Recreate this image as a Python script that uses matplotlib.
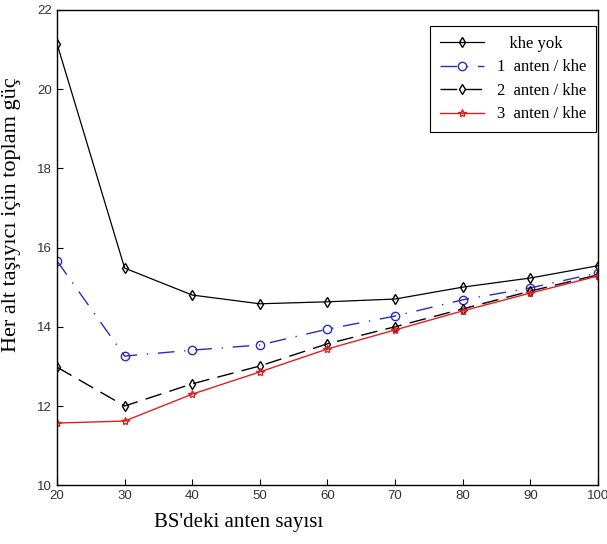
import numpy as np
import matplotlib
matplotlib.use('Agg')
import matplotlib.pyplot as plt

# antenna counts at the BS
anten = [20, 30, 40, 50, 60, 70, 80, 90, 100]

# total power per subcarrier
khe_yok = [21.14, 15.48, 14.80, 14.58, 14.63, 14.70, 15.00, 15.23, 15.54]
anten1 = [15.66, 13.26, 13.41, 13.54, 13.94, 14.27, 14.68, 14.98, 15.36]
anten2 = [12.98, 12.00, 12.56, 13.01, 13.57, 14.00, 14.45, 14.90, 15.31]
anten3 = [11.57, 11.62, 12.30, 12.86, 13.44, 13.92, 14.40, 14.85, 15.28]

labels = ['   khe yok', '1  anten / khe', '2  anten / khe', '3  anten / khe']

fig = plt.figure(figsize=(6.07, 5.44), dpi=100, facecolor='white')
ax = fig.add_axes([0.094, 0.108, 0.891, 0.874])

ax.plot(anten, khe_yok, color='black', lw=0.9, marker='d', ms=5,
        mfc='none', mec='black', label=labels[0])
ax.plot(anten, anten1, color='#2b2bc0', lw=1.0, marker='o', ms=6,
        mfc='none', dashes=(12, 7, 1, 7), label=labels[1])
ax.plot(anten, anten2, color='black', lw=1.0, marker='d', ms=5,
        mfc='none', dashes=(12, 6), label=labels[2])
ax.plot(anten, anten3, color='#e02020', lw=1.0, marker='*', ms=6,
        mfc='none', label=labels[3])

ax.set_xlim(20, 100)
ax.set_ylim(10, 22)
ax.set_xticks(np.arange(20, 101, 10))
ax.set_yticks(np.arange(10, 23, 2))
ax.tick_params(direction='in', length=4, labelsize=9.5, width=0.8,
               top=False, right=False)
for lab in ax.get_xticklabels() + ax.get_yticklabels():
    lab.set_family('Liberation Sans')
    lab.set_color('#333333')
for s in ax.spines.values():
    s.set_linewidth(1.0)

ax.set_xlabel("BS'deki anten sayısı", family='Liberation Serif', fontsize=15)
ax.xaxis.set_label_coords(0.335, -0.058)
ax.set_ylabel('Her alt taşıyıcı için toplam güç', family='Liberation Serif',
              fontsize=16)
ax.yaxis.set_label_coords(-0.066, 0.57)

leg = ax.legend(loc='upper right', bbox_to_anchor=(0.997, 0.966),
                borderaxespad=0,
                prop={'family': 'Liberation Serif', 'size': 12},
                fancybox=False, edgecolor='black', framealpha=1,
                handlelength=2.6, borderpad=0.6, labelspacing=0.45)
leg.get_frame().set_linewidth(0.8)

plt.savefig('out.png', dpi=100)
